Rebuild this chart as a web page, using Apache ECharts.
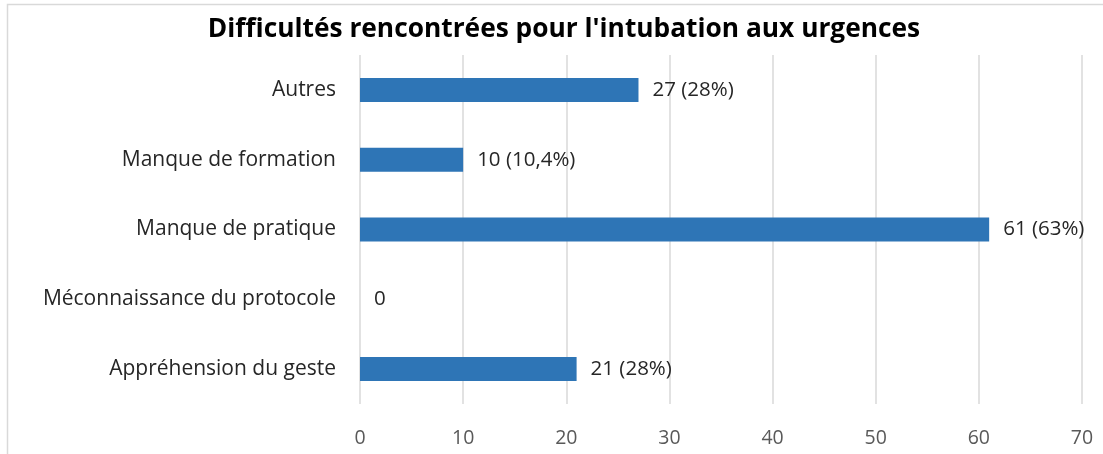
<!DOCTYPE html>
<html><head><meta charset="utf-8">
<script src="https://cdn.jsdelivr.net/npm/echarts@6/dist/echarts.min.js"></script>
<style>html,body{margin:0;padding:0;background:#fff;}#c{width:1103px;height:454px;}</style>
</head><body><div id="c"></div>
<script>
const categories = ["Appréhension du geste", "Méconnaissance du protocole", "Manque de pratique", "Manque de formation", "Autres"];
const values = [21, 0, 61, 10, 27];
const labels = ["21 (28%)", "0", "61 (63%)", "10 (10,4%)", "27 (28%)"];
const xTicks = [0, 10, 20, 30, 40, 50, 60, 70];

const FONT = "Open Sans";
const chart = echarts.init(document.getElementById('c'), null, {renderer: 'canvas'});
chart.setOption({
  animation: false,
  backgroundColor: '#fff',
  title: {
    text: "Difficultés rencontrées pour l'intubation aux urgences",
    left: 559, top: 12, textAlign: 'center',
    textStyle: {fontFamily: FONT, fontWeight: 'bold', fontSize: 26.3, color: '#000'}
  },
  graphic: [{
    type: 'rect', shape: {x: 7.5, y: 4.5, width: 1200, height: 600},
    style: {fill: 'none', stroke: '#d9d9d9', lineWidth: 1.5}, silent: true, z: -1
  }],
  grid: {left: 360, right: 21, top: 55, bottom: 50, containLabel: false},
  xAxis: {
    type: 'value', min: 0, max: 70, interval: 10,
    axisLine: {show: false}, axisTick: {show: false},
    splitLine: {lineStyle: {color: '#d9d9d9', width: 1.5}},
    axisLabel: {fontFamily: FONT, fontSize: 19.5, color: '#595959', margin: 24,
      formatter: v => xTicks.includes(v) ? String(v) : ''}
  },
  yAxis: {
    type: 'category', data: categories,
    axisLine: {show: false}, axisTick: {show: false},
    axisLabel: {fontFamily: FONT, fontSize: 21, color: '#262626', margin: 24}
  },
  series: [{
    type: 'bar', data: values, barWidth: 24,
    itemStyle: {color: '#2E75B6'},
    label: {show: true, position: 'right', distance: 14, fontFamily: FONT, fontSize: 20.5, color: '#262626',
      formatter: p => labels[p.dataIndex]}
  }]
});
</script></body></html>
